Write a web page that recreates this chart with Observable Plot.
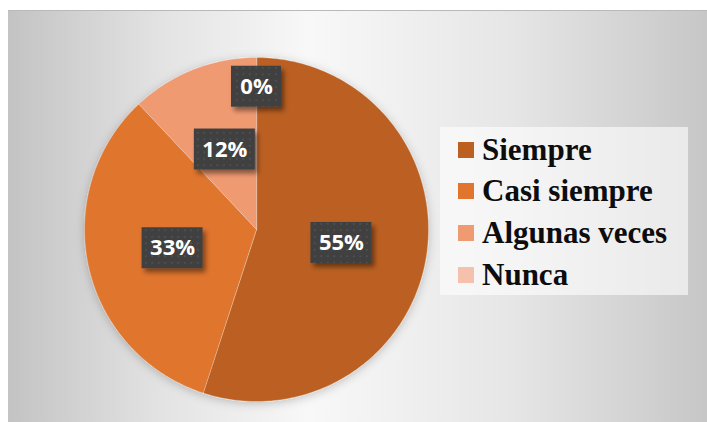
<!DOCTYPE html>
<html><head><meta charset="utf-8">
<script src="https://cdn.jsdelivr.net/npm/d3@7"></script>
<script src="https://cdn.jsdelivr.net/npm/@observablehq/plot@0.6"></script>
<style>
html,body{margin:0;padding:0;background:#fff;}
#wrap{position:relative;width:707px;height:422px;overflow:hidden;background:#fff;}
#bg{position:absolute;left:8px;top:10px;right:0;bottom:0;background:linear-gradient(to right,#c3c3c3 0%,#e3e3e3 22%,#f8f8f8 43%,#e6e6e6 72%,#c7c7c7 100%);border-top:1px solid #b9b9b9;}
#chart{position:absolute;left:0;top:0;}
#legend{position:absolute;left:440px;top:127px;width:248px;height:168px;background:rgba(255,255,255,0.6);font-family:"Liberation Serif","Times New Roman",serif;font-weight:bold;font-size:31px;line-height:31px;color:#0d0d0d;}
.item{position:absolute;left:18px;display:flex;align-items:center;white-space:nowrap;height:31px;}
.sw{width:16px;height:16px;margin-right:8px;flex:none;}
</style>
</head><body>
<div id="wrap"><div id="bg"></div><div id="chart"></div><div id="legend"></div></div>
<script>
const categories = ["Siempre", "Casi siempre", "Algunas veces", "Nunca"];
const values = [55, 33, 12, 0];
const labels = ["55%", "33%", "12%", "0%"];
const colors = ["#BB6021", "#E0752D", "#F09A72", "#F5C1AD"];

const pie = d3.pie().sort(null).startAngle(0).endAngle(2 * Math.PI)(values);

// slice polygons (unit circle, angle clockwise from top)
const slicePts = [];
pie.forEach((a, i) => {
  if (a.endAngle - a.startAngle <= 0) return;
  slicePts.push({cat: categories[i], x: 0, y: 0});
  const n = Math.max(2, Math.ceil((a.endAngle - a.startAngle) / (Math.PI / 180)));
  for (let k = 0; k <= n; k++) {
    const t = a.startAngle + (a.endAngle - a.startAngle) * k / n;
    slicePts.push({cat: categories[i], x: Math.sin(t), y: Math.cos(t)});
  }
});

// label boxes
const R = 172; // px per data unit
const lab = pie.map((a, i) => {
  const mid = (a.startAngle + a.endAngle) / 2;
  const r = values[i] > 0 ? 0.5 : 0.83;
  const cx = Math.sin(mid) * r, cy = Math.cos(mid) * r;
  const hw = (labels[i].length === 2 ? 50 : 61) / 2 / R;
  const hh = 41 / 2 / R;
  return {label: labels[i], cx, cy, x1: cx - hw, x2: cx + hw, y1: cy - hh, y2: cy + hh};
});

const svg = Plot.plot({
  width: 707, height: 422,
  marginLeft: 0, marginRight: 0, marginTop: 0, marginBottom: 0,
  style: {background: "transparent", overflow: "visible"},
  x: {domain: [-1, 1], range: [84, 428], axis: null},
  y: {domain: [-1, 1], range: [401, 57], axis: null},
  color: {domain: categories, range: colors},
  marks: [
    Plot.line(slicePts, {x: "x", y: "y", z: "cat", fill: "cat", stroke: "#ffffff", strokeOpacity: 0.35, strokeWidth: 0.8, curve: "linear-closed"}),
    Plot.rect(lab, {x1: "x1", x2: "x2", y1: "y1", y2: "y2", fill: "url(#dots)"}),
    Plot.text(lab, {x: "cx", y: "cy", text: "label", fill: "white", fontSize: 22, fontWeight: "bold", fontFamily: "'Open Sans', sans-serif"})
  ]
});

const s = d3.select(svg);
const defs = s.insert("defs", ":first-child");
const pat = defs.append("pattern").attr("id", "dots").attr("width", 6.5).attr("height", 6.5).attr("patternUnits", "userSpaceOnUse");
pat.append("rect").attr("width", 6.5).attr("height", 6.5).attr("fill", "#404040");
pat.append("rect").attr("x", 2).attr("y", 2).attr("width", 1.6).attr("height", 1.6).attr("fill", "#565656");
const f1 = defs.append("filter").attr("id", "sh").attr("x", "-30%").attr("y", "-30%").attr("width", "160%").attr("height", "160%");
f1.append("feDropShadow").attr("dx", 3).attr("dy", 4).attr("stdDeviation", 2.5).attr("flood-color", "#000").attr("flood-opacity", 0.45);
const f2 = defs.append("filter").attr("id", "psh").attr("x", "-20%").attr("y", "-20%").attr("width", "140%").attr("height", "140%");
f2.append("feDropShadow").attr("dx", 0).attr("dy", 2).attr("stdDeviation", 5).attr("flood-color", "#000").attr("flood-opacity", 0.22);
s.select('g[aria-label="rect"]').attr("filter", "url(#sh)");
s.select('g[aria-label="line"]').attr("filter", "url(#psh)");

document.getElementById("chart").appendChild(svg);

const leg = document.getElementById("legend");
const tops = [7, 48, 90, 132];
categories.forEach((c, i) => {
  const it = document.createElement("div");
  it.className = "item";
  it.style.top = tops[i] + "px";
  const sw = document.createElement("span");
  sw.className = "sw";
  sw.style.background = colors[i];
  const tx = document.createElement("span");
  tx.textContent = c;
  it.appendChild(sw); it.appendChild(tx);
  leg.appendChild(it);
});
</script>
</body></html>
